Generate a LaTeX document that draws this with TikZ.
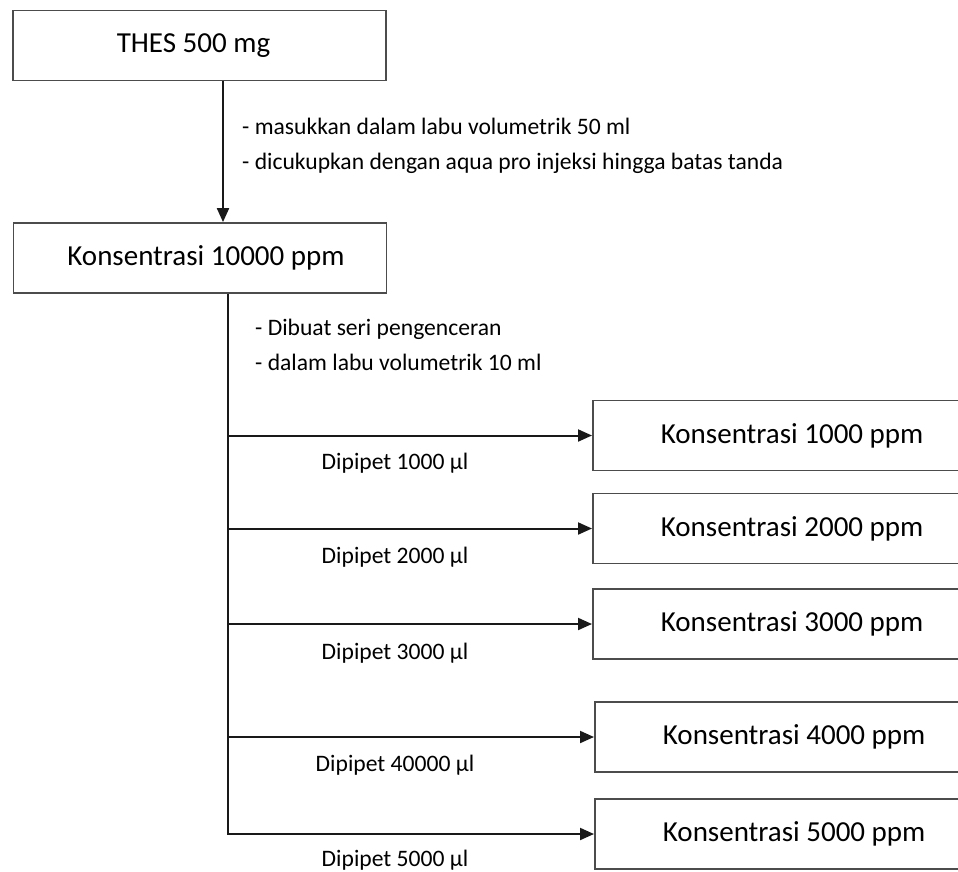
\documentclass[tikz,border=0pt]{standalone}
\usepackage{fontspec}
\setmainfont{Carlito}
\usetikzlibrary{arrows.meta}
\tikzset{
  bigbox/.style={draw=black!70, line width=1.8pt, rectangle, minimum height=70pt, inner sep=0pt, font=\fontsize{29}{33}\selectfont},
  leftbox/.style={bigbox, minimum width=373pt},
  rightbox/.style={bigbox, anchor=west, text width=330pt, align=flush left, inner xsep=68pt},
  note/.style={anchor=base west, inner sep=0pt, font=\fontsize{23.6}{27}\selectfont},
  lab/.style={anchor=base, inner sep=0pt, font=\fontsize{23.6}{27}\selectfont},
  conn/.style={line width=2pt, black!90},
  arr/.style={conn, -{Triangle[length=14pt,width=12pt]}}
}
\begin{document}
\begin{tikzpicture}[x=1pt, y=-1pt]
\clip (0,0) rectangle (958,871);
\fill[white] (0,0) rectangle (958,871);

\node[leftbox] (b1) at (199.5,45.5) {\hspace*{-12pt}THES 500 mg};
\node[leftbox] (b2) at (200,258) {\hspace*{12pt}Konsentrasi 10000 ppm};

\coordinate (c1) at (223,0);
\draw[arr] (b1.south -| c1) -- (b2.north -| c1);

\node[note] (n1) at (242,134) {- masukkan dalam labu volumetrik 50 ml};
\node[note] (n2) at (242,169) {- dicukupkan dengan aqua pro injeksi hingga batas tanda};

\node[rightbox] (k1) at (592,435.5) {Konsentrasi 1000 ppm};
\node[rightbox] (k2) at (592,528.5) {Konsentrasi 2000 ppm};
\node[rightbox] (k3) at (592,624) {Konsentrasi 3000 ppm};
\node[rightbox] (k4) at (594,737) {Konsentrasi 4000 ppm};
\node[rightbox] (k5) at (594,834) {Konsentrasi 5000 ppm};

\coordinate (tr) at (228,0);
\coordinate (trend) at (228,835);
\draw[conn] (b2.south -| tr) -- (trend);

\node[note] (n3) at (255,335) {- Dibuat seri pengenceran};
\node[note] (n4) at (255,370) {- dalam labu volumetrik 10 ml};

\foreach \k in {k1,k2,k3,k4,k5}{
  \draw[arr] (\k.west -| tr) -- (\k.west);
}

\node[lab] (d1) at (395,469) {Dipipet 1000 µl};
\node[lab] (d2) at (395,563) {Dipipet 2000 µl};
\node[lab] (d3) at (395,659) {Dipipet 3000 µl};
\node[lab] (d4) at (395,771) {Dipipet 40000 µl};
\node[lab] (d5) at (395,866) {Dipipet 5000 µl};
\end{tikzpicture}
\end{document}
